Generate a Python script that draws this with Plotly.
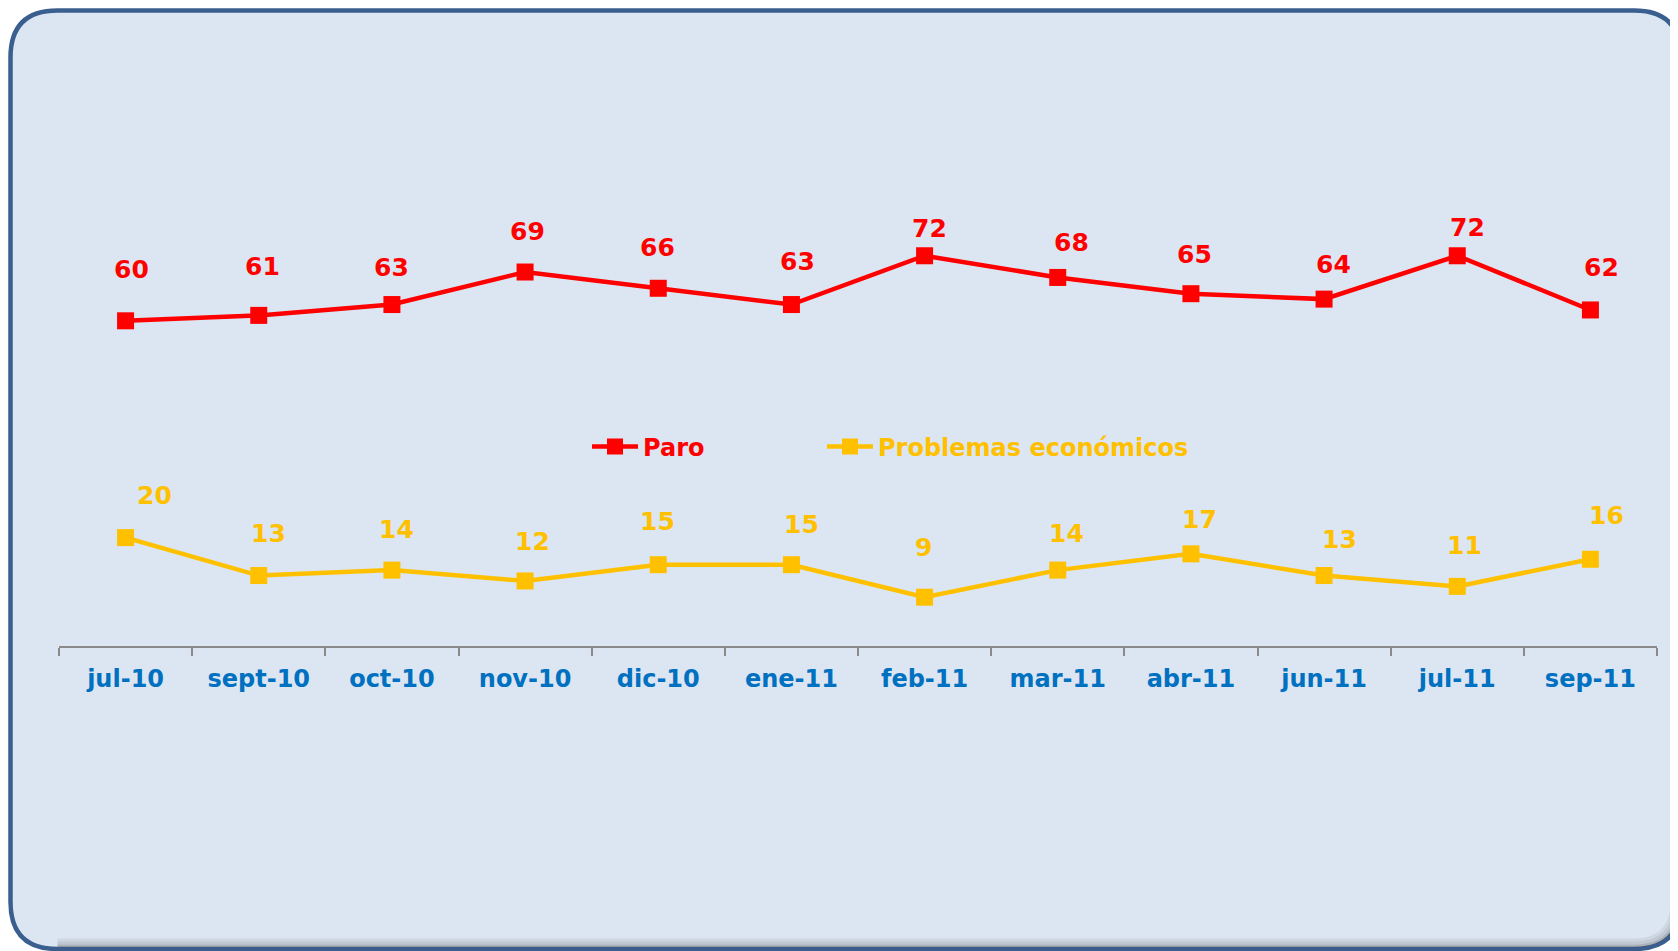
import plotly.graph_objects as go

RED = "#FF0000"
GOLD = "#FFC000"
BLUE_TXT = "#0070C0"
PANEL = "#DCE6F2"
BORDER = "#3A5F8E"
AXIS = "#8A8A8A"
FONT = "Verdana, DejaVu Sans, sans-serif"

months = ["jul-10", "sept-10", "oct-10", "nov-10", "dic-10", "ene-11",
          "feb-11", "mar-11", "abr-11", "jun-11", "jul-11", "sep-11"]
paro = [60, 61, 63, 69, 66, 63, 72, 68, 65, 64, 72, 62]
problemas = [20, 13, 14, 12, 15, 15, 9, 14, 17, 13, 11, 16]

# label nudges (px) as placed by hand in the original chart
paro_dx = [6, 4, 0, 2, -1, 6, 5, 14, 4, 9, 10, 11]
paro_dy = [51, 49, 37, 41, 41, 43, 27, 35, 39, 35, 28, 42]
prob_dx = [29, 10, 5, 7, -1, 10, -1, 9, 9, 15, 7, 16]
prob_dy = [42, 42, 41, 39, 43, 40, 50, 37, 34, 36, 41, 44]

# the page body adds an 8px margin, so the figure is a bit smaller than the window
BODY = 8
W, H = 1670, 943
ML, MR, MT, MB = 51, 21, 96, 305


def px(x):
    return (x - BODY - ML) / (W - ML - MR)


def py(y):
    return (H - MB - (y - BODY)) / (H - MT - MB)


def rounded_rect(x0, y0, x1, y1, r):
    return (
        f"M {px(x0 + r)} {py(y0)} L {px(x1 - r)} {py(y0)} "
        f"Q {px(x1)} {py(y0)} {px(x1)} {py(y0 + r)} "
        f"L {px(x1)} {py(y1 - r)} "
        f"Q {px(x1)} {py(y1)} {px(x1 - r)} {py(y1)} "
        f"L {px(x0 + r)} {py(y1)} "
        f"Q {px(x0)} {py(y1)} {px(x0)} {py(y1 - r)} "
        f"L {px(x0)} {py(y0 + r)} "
        f"Q {px(x0)} {py(y0)} {px(x0 + r)} {py(y0)} Z"
    )


def inner_shadow(x0, y0, x1, y1, r, d):
    return (
        f"M {px(x0 + r)} {py(y1 - d)} L {px(x1 - r)} {py(y1 - d)} "
        f"Q {px(x1 - d)} {py(y1 - d)} {px(x1 - d)} {py(y1 - r)} "
        f"L {px(x1 - d)} {py(y0 + r)}"
    )


fig = go.Figure()

series = [
    ("Paro", paro, RED, paro_dx, paro_dy, "legend"),
    ("Problemas económicos", problemas, GOLD, prob_dx, prob_dy, "legend2"),
]
for name, vals, col, dxs, dys, leg in series:
    fig.add_trace(go.Scatter(
        x=months, y=vals, mode="lines+markers", legend=leg,
        name=f"<b>{name}</b>",
        line=dict(color=col, width=4.5),
        marker=dict(symbol="square", size=17, color=col),
    ))
    for m, v, dx, dy in zip(months, vals, dxs, dys):
        fig.add_annotation(
            x=m, y=v, text=f"<b>{v}</b>", showarrow=False,
            xshift=dx, yshift=dy,
            font=dict(family=FONT, size=25, color=col),
        )

RX0, RY0, RX1, RY1, RR = 10.5, 10.5, 1681, 949, 47
shapes = [
    dict(type="path", xref="paper", yref="paper", layer="below",
         path=rounded_rect(RX0, RY0, RX1, RY1, RR),
         fillcolor=PANEL, line=dict(color=BORDER, width=4.5)),
]
for d, op in [(3, 0.35), (6, 0.2), (9, 0.1)]:
    shapes.append(dict(
        type="path", xref="paper", yref="paper", layer="below",
        path=inner_shadow(RX0, RY0, RX1, RY1, RR, d),
        line=dict(color=f"rgba(80,80,80,{op})", width=3),
    ))

legend_common = dict(
    orientation="h", yanchor="middle", xanchor="left",
    bgcolor="rgba(0,0,0,0)", borderwidth=0, itemwidth=46,
)

fig.update_layout(
    width=W, height=H,
    paper_bgcolor="white",
    plot_bgcolor="rgba(0,0,0,0)",
    margin=dict(l=ML, r=MR, t=MT, b=MB, pad=0),
    font=dict(family=FONT, size=24),
    shapes=shapes,
    showlegend=True,
    legend=dict(x=px(587), y=py(447), font=dict(family=FONT, size=24, color=RED),
                **legend_common),
    legend2=dict(x=px(822), y=py(447), font=dict(family=FONT, size=24, color=GOLD),
                 **legend_common),
    xaxis=dict(
        type="category", range=[-0.5, 11.5],
        tickvals=months, ticktext=[f"<b>{m}</b>" for m in months],
        showline=True, linecolor=AXIS, linewidth=2,
        ticks="outside", tickson="boundaries", ticklen=8, tickcolor=AXIS, tickwidth=2,
        showgrid=False, zeroline=False,
        tickfont=dict(family=FONT, size=24, color=BLUE_TXT),
        ticklabelstandoff=10,
    ),
    yaxis=dict(range=[0, 100], visible=False, showgrid=False, zeroline=False),
)

fig.write_html("out.html")
